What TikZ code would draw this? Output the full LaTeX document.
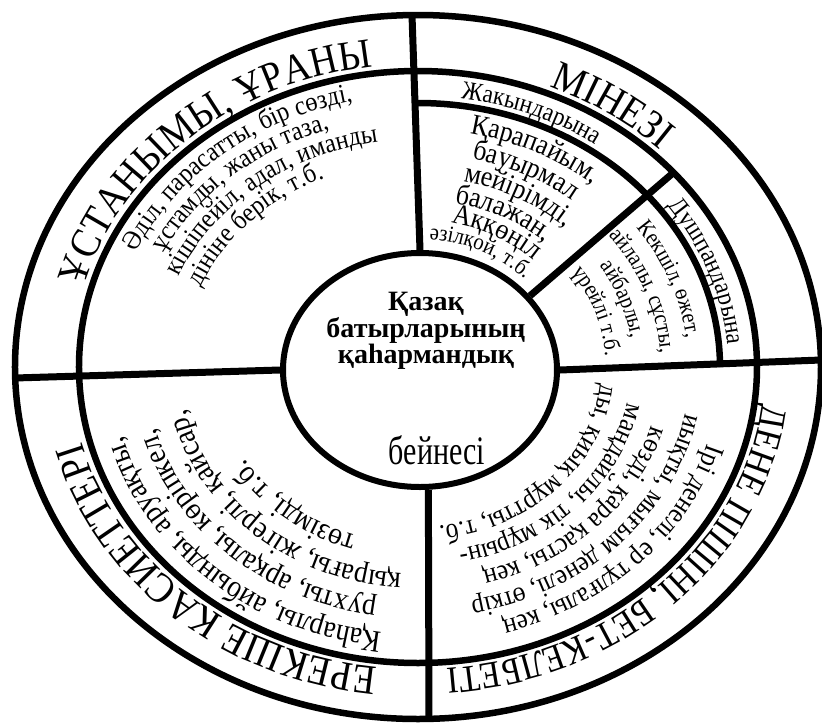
\documentclass[tikz,border=0pt]{standalone}
\usepackage{fontspec}
\setmainfont{Liberation Serif}
\newfontfamily\arcfont[FakeStretch=0.9]{Liberation Serif}
\usetikzlibrary{
    shapes.geometric,
    decorations.text,
}

% arc of the rings, radius r (y), from angle to angle
\newcommand{\ringpath}[3]{plot[domain=#2:#3, samples=50] ({1.145*#1*cos(\x)}, {#1*sin(\x)})}
\newcommand{\labelsize}{\arcfont\fontsize{42}{42}\selectfont}
\newcommand{\leftsize}{\arcfont\fontsize{27}{27}\selectfont}
\newcommand{\bandsize}{\arcfont\fontsize{26}{26}\selectfont}
\newcommand{\kinsize}{\arcfont\fontsize{29}{29}\selectfont}
\newcommand{\foesize}{\arcfont\fontsize{23}{23}\selectfont}
\newcommand{\bodysize}{\arcfont\fontsize{28}{28}\selectfont}
\newcommand{\giftsize}{\arcfont\fontsize{31}{31}\selectfont}

\tikzset{
    ring/.style={line width=6.5pt},
    divider/.style={line width=7pt},
    curved/.style={decorate, decoration={text along path, text align=center, text={#1}}},
}

\begin{document}
\begin{tikzpicture}[x=1pt, y=1pt]
    \useasboundingbox (-418,367) rectangle (404,-357);

    % rings
    \draw[ring] (0,0) ellipse[x radius=403, y radius=352];
    \draw[ring] (0,0) ellipse[x radius=339, y radius=296];
    \draw[ring] (302,0) arc[start angle=0, end angle=91, x radius=302, y radius=264];
    \node[draw, ellipse, line width=6pt, minimum width=274pt, minimum height=234pt] (hub) at (2,-3) {};

    % dividers
    \draw[divider] (hub.north) -- (-6,352);
    \draw[divider] (hub.west) -- (-403,-11);
    \draw[divider] (hub.east) -- (403,7);
    \draw[divider] (hub.-86) -- (11,-352);
    \draw[divider] (hub.34) -- (255,194);

    % centre
    \node[font=\bfseries\fontsize{28}{25}\selectfont, align=center] (title) at (8,36) {Қазақ\\батырларының\\қаһармандық};
    \node[font=\fontsize{30}{30}\selectfont, yscale=1.35] (word) at (19,-83) {бейнесі};

    % outer band
    \path[curved={|\labelsize|ҰСТАНЫМЫ, ҰРАНЫ}] \ringpath{303}{179}{85};
    \path[curved={|\labelsize|МІНЕЗІ}] \ringpath{303}{86}{26};
    \path[curved={|\arcfont\fontsize{38}{38}\selectfont|ДЕНЕ ПІШІНІ, БЕТ-КЕЛБЕТІ}] \ringpath{303}{11}{-101};
    \path[curved={|\labelsize|ЕРЕКШЕ КАСИЕТТЕРІ}] \ringpath{303}{274}{182};

    % top left
    \path[curved={|\leftsize|Әділ, парасатты, бір сөзді,}] \ringpath{272}{180}{80};
    \path[curved={|\leftsize|ұстамды, жаны таза,}] \ringpath{250}{182}{82};
    \path[curved={|\leftsize|кішіпейіл, адал, иманды}] \ringpath{228}{179}{79};
    \path[curved={|\leftsize|дініне берік, т.б.}] \ringpath{206}{187}{87};

    % top right
    \path[curved={|\bandsize|Жакындарына}] \ringpath{271}{100}{36};
    \path[curved={|\bandsize|Душпандарына}] \ringpath{271}{52}{-12};
    \path[curved={|\kinsize|Қарапайым,}] \ringpath{238}{96}{32};
    \path[curved={|\kinsize|бауырмал}] \ringpath{214}{95}{32};
    \path[curved={|\kinsize|мейірімді,}] \ringpath{190}{94}{30};
    \path[curved={|\kinsize|балажан,}] \ringpath{167}{95}{31};
    \path[curved={|\kinsize|Аққөңіл}] \ringpath{147}{94}{30};
    \path[curved={|\arcfont\fontsize{23}{23}\selectfont|әзілқой, т.б.}] \ringpath{128}{96}{32};
    \path[curved={|\foesize|Кекшіл, өжет,}] \ringpath{236}{53}{-11};
    \path[curved={|\foesize|айлалы, сұсты,}] \ringpath{212}{52}{-11};
    \path[curved={|\foesize|айбарлы,}] \ringpath{188}{52}{-12};
    \path[curved={|\foesize|үрейлі т.б.}] \ringpath{164}{51}{-13};

    % bottom right
    \path[curved={|\bodysize|Ірі денелі, ер тұлғалы, кең}] \ringpath{264}{6}{-94};
    \path[curved={|\bodysize|иықты, мығым денелі, өткір}] \ringpath{238}{6}{-94};
    \path[curved={|\bodysize|көзді, қара қасты, кең}] \ringpath{212}{6}{-94};
    \path[curved={|\bodysize|маңдайлы, тік мұрын-}] \ringpath{186}{6}{-94};
    \path[curved={|\bodysize|ды, қиық мұртты, т.б.}] \ringpath{160}{6}{-94};

    % bottom left
    \path[curved={|\giftsize|Қаһарлы, айбынды, аруақты,}] \ringpath{267}{278}{178};
    \path[curved={|\giftsize|рухты, арқалы, көріпкел,}] \ringpath{237}{277}{177};
    \path[curved={|\giftsize|қырағы, жігерлі, қайсар,}] \ringpath{207}{278}{178};
    \path[curved={|\giftsize|төзімді, т.б.}] \ringpath{177}{280}{180};
\end{tikzpicture}
\end{document}
